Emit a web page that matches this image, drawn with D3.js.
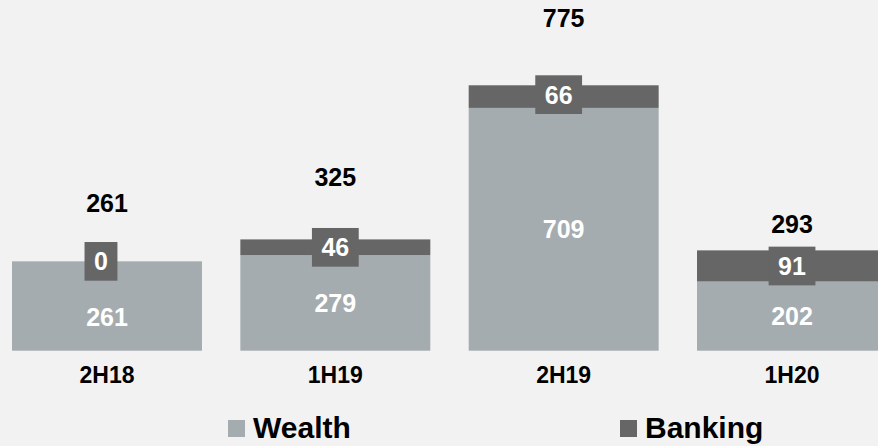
<!DOCTYPE html>
<html>
<head>
<meta charset="utf-8">
<script src="https://cdn.jsdelivr.net/npm/d3@7"></script>
<style>
  html, body { margin: 0; padding: 0; background: #f2f2f2; }
  svg { display: block; font-family: "Liberation Sans", Arial, sans-serif; font-weight: bold; }
</style>
</head>
<body>
<div id="chart"></div>
<script>
// data
const categories = ['2H18', '1H19', '2H19', '1H20']
const wealth = [261, 279, 709, 202]
const banking = [0, 46, 66, 91]
const totals = [261, 325, 775, 293]
const seriesNames = ['Wealth', 'Banking']

// layout tweaks, the labels in the original were placed by hand
const totalGap = [49, 53, 58, 17]
const wealthLabelShift = [11, 0, 0, 0]
const bankBoxShiftX = [-6, 0, -5, 0]
const bankBoxShiftY = [0, 0, -2, 0]

const width = 878, height = 446
const colors = { Wealth: '#a5acb0', Banking: '#666666' }

const svg = d3.select('#chart').append('svg')
  .attr('width', width)
  .attr('height', height)

svg.append('rect').attr('width', width).attr('height', height).attr('fill', '#f2f2f2')

const x = d3.scaleBand()
  .domain(categories)
  .range([12, 887])
  .paddingInner(0.168)
  .paddingOuter(0)

const y = d3.scaleLinear()
  .domain([0, 775])
  .range([350.7, 85.3])

const rows = categories.map((c, i) => ({ cat: c, Wealth: wealth[i], Banking: banking[i], total: totals[i], i: i }))
const stacked = d3.stack().keys(seriesNames)(rows)

// bars
stacked.forEach(layer => {
  svg.append('g').selectAll('rect')
    .data(layer)
    .join('rect')
    .attr('x', d => x(d.data.cat))
    .attr('y', d => y(d[1]))
    .attr('width', x.bandwidth())
    .attr('height', d => y(d[0]) - y(d[1]))
    .attr('fill', colors[layer.key])
})

// wealth labels
svg.append('g').selectAll('text')
  .data(stacked[0])
  .join('text')
  .attr('x', d => x(d.data.cat) + x.bandwidth() / 2)
  .attr('y', d => (y(d[0]) + y(d[1])) / 2 + wealthLabelShift[d.data.i])
  .attr('dy', '0.36em')
  .attr('text-anchor', 'middle')
  .attr('fill', '#ffffff')
  .style('font-size', '25px')
  .text(d => d.data.Wealth)

// banking labels in boxes
const bankG = svg.append('g').selectAll('g')
  .data(stacked[1])
  .join('g')
  .attr('transform', d => 'translate(' + (x(d.data.cat) + x.bandwidth() / 2 + bankBoxShiftX[d.data.i]) + ','
    + ((y(d[0]) + y(d[1])) / 2 + bankBoxShiftY[d.data.i]) + ')')

bankG.each(function(d) {
  const g = d3.select(this)
  const t = g.append('text')
    .attr('text-anchor', 'middle')
    .attr('dy', '0.36em')
    .attr('fill', '#ffffff')
    .style('font-size', '25px')
    .text(d.data.Banking)
  const w = t.node().getComputedTextLength() + 19
  g.insert('rect', 'text')
    .attr('x', -w / 2)
    .attr('y', -19.3)
    .attr('width', w)
    .attr('height', 38.7)
    .attr('fill', colors.Banking)
})

// totals
svg.append('g').selectAll('text')
  .data(rows)
  .join('text')
  .attr('x', d => x(d.cat) + x.bandwidth() / 2)
  .attr('y', d => y(d.total) - totalGap[d.i])
  .attr('text-anchor', 'middle')
  .attr('fill', '#000000')
  .style('font-size', '25px')
  .text(d => d.total)

// category axis labels
svg.append('g').selectAll('text')
  .data(categories)
  .join('text')
  .attr('x', d => x(d) + x.bandwidth() / 2)
  .attr('y', 382.7)
  .attr('text-anchor', 'middle')
  .attr('fill', '#000000')
  .style('font-size', '23px')
  .text(d => d)

// legend
const legendX = [228, 620]
const leg = svg.append('g').selectAll('g')
  .data(seriesNames)
  .join('g')
  .attr('transform', (d, i) => 'translate(' + legendX[i] + ',0)')

leg.append('rect')
  .attr('x', 0)
  .attr('y', 420)
  .attr('width', 17)
  .attr('height', 17)
  .attr('fill', d => colors[d])

leg.append('text')
  .attr('x', 25)
  .attr('y', 438.3)
  .attr('fill', '#000000')
  .style('font-size', '30px')
  .text(d => d)
</script>
</body>
</html>
